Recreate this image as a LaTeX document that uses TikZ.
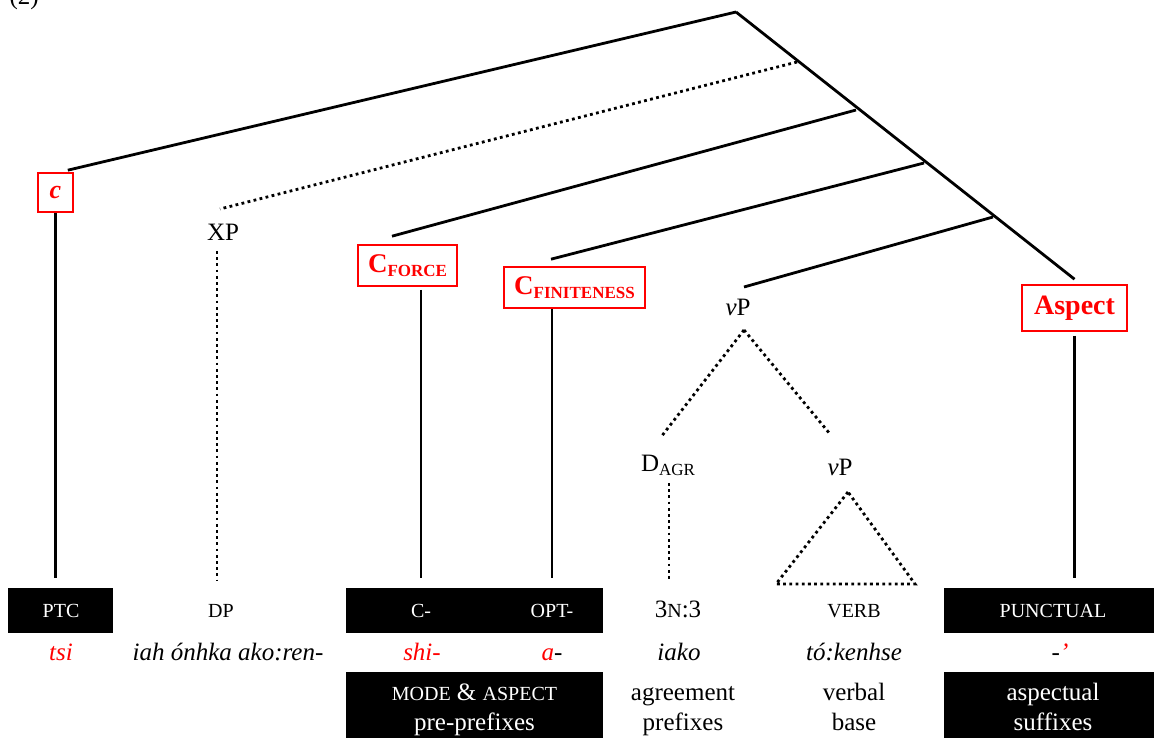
\documentclass[tikz,border=0pt]{standalone}
\usepackage{fontspec}
\setmainfont{Liberation Serif}
\newcommand{\fakesc}[1]{{\fontsize{20}{24}\selectfont #1}}
\newcommand{\subsc}[1]{\raisebox{-4pt}{\fontsize{17}{20}\selectfont #1}}

\begin{document}
\begin{tikzpicture}[
        x = 1pt, y = -1pt,
        font = \fontsize{25}{30}\selectfont,
        hd/.style={ rectangle, draw = red, line width = 1.6pt, text = red, inner sep = 0pt },
        blk/.style={ rectangle, fill = black, inner sep = 0pt },
        cell/.style={ minimum height = 45pt, text height = 13pt, text depth = 0pt, inner sep = 0pt },
        wcell/.style={ cell, text = white },
        gl/.style={ anchor = base, font = \fontsize{25}{30}\selectfont\itshape },
        desc/.style={ anchor = base, align = center },
        br/.style={ line width = 2.8pt },
        dbr/.style={ line width = 2.8pt, dash pattern = on 2.8pt off 3.4pt }
    ]
    \useasboundingbox (0,0) rectangle (1154,738);

    \node (ex) [anchor=base west] at (6,5) {(2)};

    \node (c)      [hd, minimum width = 35pt, minimum height = 39pt] at (55.5, 192.5) {\fontsize{26}{30}\selectfont\bfseries\itshape c};
    \node (xp)     at (223, 232) {XP};
    \node (cforce) [hd, minimum width = 99pt, minimum height = 41pt] at (407.5, 265.5) {\fontsize{27}{30}\selectfont\bfseries C\subsc{FORCE}};
    \node (cfin)   [hd, minimum width = 141pt, minimum height = 41pt] at (574.5, 287.5) {\fontsize{27}{30}\selectfont\bfseries C\subsc{FINITENESS}};
    \node (vp)     at (738, 307) {\textit{v}P};
    \node (aspect) [hd, minimum width = 105pt, minimum height = 46pt] at (1074.5, 308) {\fontsize{28}{30}\selectfont\bfseries Aspect};
    \node (dagr)   at (668, 465) {D\subsc{AGR}};
    \node (vpb)    at (840, 467) {\textit{v}P};

    \coordinate (top) at (736, 12);
    \coordinate (b1)  at (797, 62);
    \coordinate (b2)  at (856, 110);
    \coordinate (b3)  at (924, 163);
    \coordinate (b4)  at (993, 217);

    \draw [br]  (top) -- ([yshift=5pt]aspect.north);
    \draw [br]  (top) -- ([xshift=-6pt, yshift=2pt]c.north east);
    \draw [dbr] (b1)  -- ([xshift=-3pt, yshift=23pt]xp.center);
    \draw [br]  (b2)  -- ([xshift=-15.5pt, yshift=8pt]cforce.north);
    \draw [br]  (b3)  -- ([xshift=-23.5pt, yshift=7pt]cfin.north);
    \draw [br]  (b4)  -- ([xshift=6pt, yshift=20pt]vp.center);

    \draw [dbr] ([xshift=6pt, yshift=-23pt]vp.center) -- ([xshift=-7pt, yshift=28pt]dagr.center);
    \draw [dbr] ([xshift=6pt, yshift=-23pt]vp.center) -- ([xshift=-10pt, yshift=33pt]vpb.center);
    \draw [dbr] ([xshift=8pt, yshift=-25pt]vpb.center) -- ++(-72,92) -- ++(139,0) -- cycle;

    \node (ptcbox)  [blk, minimum width = 105pt, minimum height = 45pt] at (60.5, 610.5) {};
    \node (prebox)  [blk, minimum width = 257pt, minimum height = 45pt] at (474.5, 610.5) {};
    \node (punbox)  [blk, minimum width = 210pt, minimum height = 45pt] at (1049, 610.5) {};
    \node (prebox2) [blk, minimum width = 257pt, minimum height = 66pt] at (474.5, 705) {};
    \node (sufbox)  [blk, minimum width = 210pt, minimum height = 66pt] at (1049, 705) {};

    \node (ptc)   [wcell] at (61, 610.5)   {\fakesc{PTC}};
    \node (dp)    [cell]  at (221, 610.5)  {\fakesc{DP}};
    \node (cpre)  [wcell] at (421, 610.5)  {\fakesc{C-}};
    \node (opt)   [wcell] at (552, 610.5)  {\fakesc{OPT-}};
    \node (agr)   [cell]  at (678, 610.5)  {3\fakesc{N}:3};
    \node (verb)  [cell]  at (854, 610.5)  {\fakesc{VERB}};
    \node (punct) [wcell] at (1053, 610.5) {\fakesc{PUNCTUAL}};

    \node (tsi)  [gl, text=red] at (61, 660)   {tsi};
    \node (iah)  [gl]           at (228, 660)  {iah ónhka ako:ren-};
    \node (shi)  [gl, text=red] at (422, 660)  {shi-};
    \node (a)    [gl]           at (552, 660)  {\textcolor{red}{a}-};
    \node (iako) [gl]           at (679, 660)  {iako};
    \node (tok)  [gl]           at (854, 660)  {tó:kenhse};
    \node (pnc)  [gl]           at (1060, 660) {-\textcolor{red}{’}};

    \node (mode)  [desc, text=white] at (474.5, 730) {\fakesc{MODE} \& \fakesc{ASPECT}\\pre-prefixes};
    \node (agree) [desc]             at (683, 730)   {agreement\\prefixes};
    \node (base)  [desc]             at (854, 730)   {verbal\\base};
    \node (suff)  [desc, text=white] at (1053, 730)  {aspectual\\suffixes};

    \draw [br, shorten >=10pt]               (c.south) -- (c.south |- ptc.north);
    \draw [dbr, shorten >=8pt]               ([xshift=-6pt, yshift=-19pt]xp.center) -- ([xshift=-6pt]xp.center |- dp.north);
    \draw [br, shorten <=3pt, shorten >=10pt] (cpre |- cforce.south) -- (cpre.north);
    \draw [br, shorten >=10pt]               (opt |- cfin.south) -- (opt.north);
    \draw [dbr, shorten >=8pt]               ([xshift=1pt, yshift=-18pt]dagr.center) -- ([xshift=1pt]dagr.center |- agr.north);
    \draw [br, shorten <=4pt, shorten >=10pt] (aspect.south) -- (aspect.south |- punct.north);
\end{tikzpicture}
\end{document}
